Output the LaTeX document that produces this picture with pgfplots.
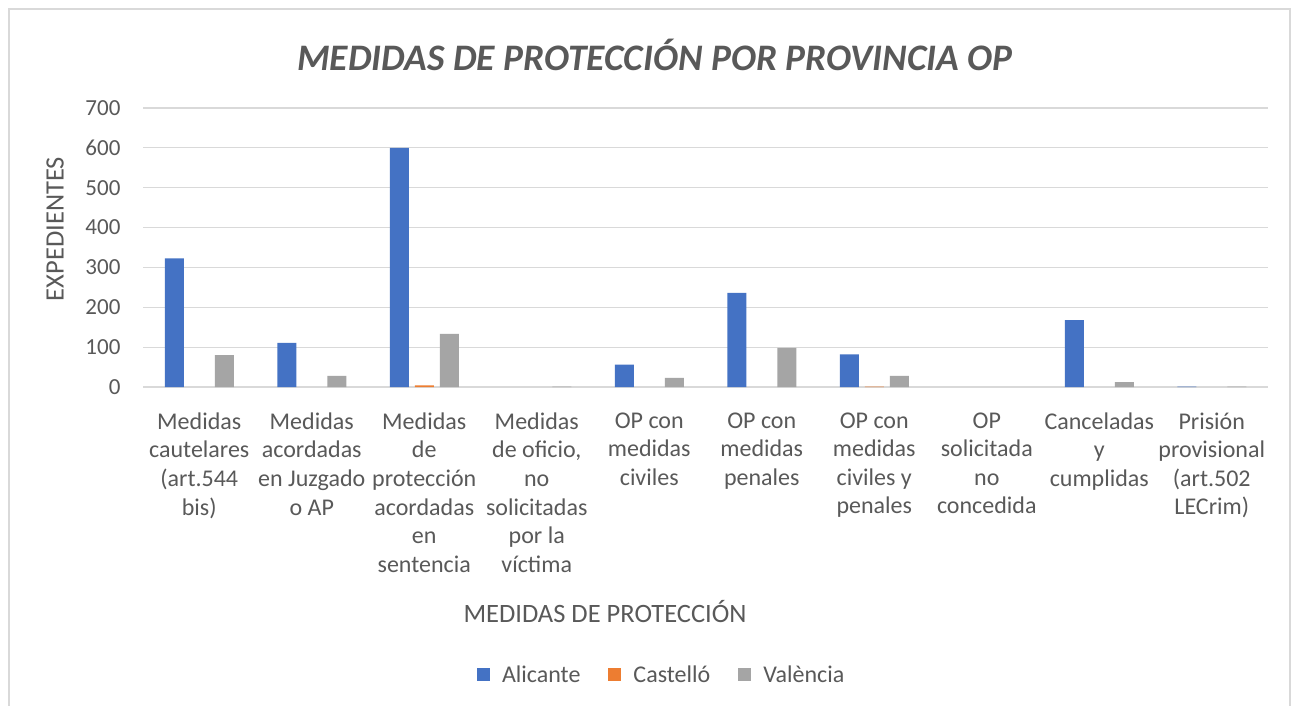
\documentclass[border=0pt]{standalone}
\usepackage{fontspec}
\setmainfont{Carlito}
\usepackage{pgfplots}
\pgfplotsset{compat=1.18}
\definecolor{cA}{HTML}{4472C4}
\definecolor{cC}{HTML}{ED7D31}
\definecolor{cV}{HTML}{A5A5A5}
\definecolor{txt}{HTML}{595959}
\definecolor{grd}{HTML}{D9D9D9}
\begin{document}
\begin{tikzpicture}
\path[use as bounding box] (0,0) rectangle (1295pt,-706pt);
\fill[white] (0,0) rectangle (1295pt,-706pt);
\draw[grd, line width=1.2pt] (9pt,-720pt) -- (9pt,-9pt) -- (1290pt,-9pt) -- (1290pt,-720pt);
\node[font=\fontsize{37.4}{42}\selectfont\bfseries\itshape, text=txt] at (655pt,-55pt) {MEDIDAS DE PROTECCIÓN POR PROVINCIA OP};
\node[font=\fontsize{26.5}{30}\selectfont, text=txt, rotate=90] at (55pt,-229pt) {EXPEDIENTES};
\node[font=\fontsize{26.5}{30}\selectfont, text=txt] at (605pt,-612pt) {MEDIDAS DE PROTECCIÓN};
\begin{axis}[
  at={(143pt,-387pt)}, anchor=south west,
  scale only axis, width=1125pt, height=279pt,
  ybar=6pt, bar width=19pt,
  xmin=-0.5, xmax=9.5, ymin=0, ymax=700,
  ytick={0,100,...,700},
  xtick={0,...,9},
  xticklabels={
    {Medidas\\cautelares\\(art.544\\bis)},
    {Medidas\\acordadas\\en Juzgado\\o AP},
    {Medidas\\de\\protección\\acordadas\\en\\sentencia},
    {Medidas\\de oficio,\\no\\solicitadas\\por la\\víctima},
    {OP con\\medidas\\civiles},
    {OP con\\medidas\\penales},
    {OP con\\medidas\\civiles y\\penales},
    {OP\\solicitada\\no\\concedida},
    {Canceladas\\y\\cumplidas},
    {Prisión\\provisional\\(art.502\\LECrim)}},
  x tick label style={align=center, font=\fontsize{24}{28.6}\selectfont, text=txt, yshift=-22pt},
  y tick label style={font=\fontsize{23}{26}\selectfont, text=txt, xshift=-19pt},
  /pgf/number format/assume math mode=true,
  major tick length=0pt,
  axis line style={draw=none},
  ymajorgrids, major grid style={grd, line width=1.2pt},
  legend style={at={(0.461,-1.032)}, anchor=center, draw=none, legend columns=3,
    font=\fontsize{24}{28}\selectfont, text=txt,
    /tikz/every odd column/.append style={column sep=10pt},
    /tikz/every even column/.append style={column sep=26pt}},
  legend image code/.code={\fill[#1] (0pt,-6.5pt) rectangle (13pt,6.5pt);},
]
\addplot[fill=cA, draw=none] coordinates {(0,323) (1,111) (2,600) (4,56) (5,236) (6,82) (8,168) (9,1)};
\addplot[fill=cC, draw=none] coordinates {(2,4) (6,1)};
\addplot[fill=cV, draw=none] coordinates {(0,80) (1,28) (2,133) (3,1) (4,23) (5,98) (6,28) (8,12) (9,1)};
\legend{Alicante, Castelló, València}
\end{axis}
\end{tikzpicture}
\end{document}
